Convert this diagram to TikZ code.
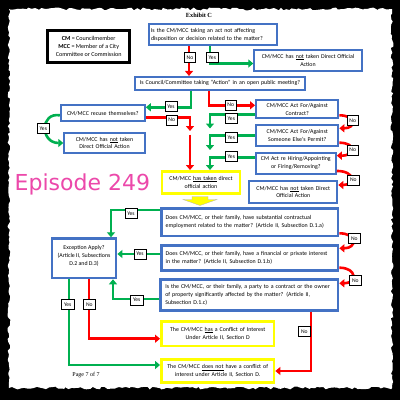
\documentclass[tikz,border=0pt]{standalone}
\usepackage{amsmath}
\usepackage{tikz}
\usetikzlibrary{arrows.meta, decorations.pathmorphing}
\usepackage{xcolor}
\usepackage{fontspec}
\setmainfont{Carlito}
\newfontfamily\exhibitface{Liberation Serif}
\newfontfamily\episodeface{DejaVu Sans}
\definecolor{cmblue}{RGB}{68,114,196}
\definecolor{cmgreen}{RGB}{0,176,80}
\definecolor{cmred}{RGB}{255,0,0}
\definecolor{cmyellow}{RGB}{255,255,0}
\definecolor{cmpink}{RGB}{236,72,170}

\begin{document}
\begin{tikzpicture}[x=1pt, y=-1pt,
    bluebox/.style={draw=cmblue, line width=2pt, fill=white, inner sep=2pt,
        font=\fontsize{5.9}{7.9}\selectfont},
    yellowbox/.style={draw=cmyellow, line width=2.6pt, fill=white, inner sep=2pt,
        font=\fontsize{5.9}{7.9}\selectfont, align=center},
    legendbox/.style={draw=black, line width=3.5pt, fill=white, align=center,
        font=\fontsize{6.1}{8}\selectfont, minimum width=82pt, minimum height=32pt},
    tag/.style={draw=black, line width=0.6pt, fill=white, inner xsep=2.5pt, inner ysep=0pt,
        minimum height=10pt, font=\fontsize{5.6}{6}\selectfont},
    yesarrow/.style={draw=cmgreen, line width=2.6pt, -{Triangle[length=5pt, width=8pt]}},
    noarrow/.style={draw=cmred, line width=2.6pt, -{Triangle[length=5pt, width=8pt]}}]
    \useasboundingbox (0,0) rectangle (400,400);
    \fill[black] (0,0) rectangle (400,400);
    \fill[white, decorate, decoration={random steps, segment length=3pt, amplitude=1.4pt}]
        (9,9) rectangle (392,388);

    \node[font=\exhibitface\bfseries\fontsize{6.3}{7}\selectfont] (exhibit) at (199,15.5) {Exhibit C};
    \node[legendbox] (legend) at (88.7,46.3) {\textbf{CM} = Councilmember\\ \textbf{MCC} = Member of a City\\ Committee or Commission};

    \node[bluebox, minimum width=128.6pt, minimum height=20.7pt, text width=124pt, align=left] (q1) at (213,34.7)
        {Is the CM/MCC taking an act not affecting\\ disposition or decision related to the matter?};
    \node[bluebox, minimum width=107.4pt, minimum height=20.4pt, text width=102pt, align=center] (r1) at (308,60.5)
        {CM/MCC has \underline{not} taken Direct Official\\ Action};
    \node[bluebox, minimum width=170pt, minimum height=12.7pt, text width=166pt, align=center] (q2) at (220,83.3)
        {Is Council/Committee taking “Action” in an open public meeting?};
    \node[bluebox, minimum width=83.7pt, minimum height=16pt, text width=80pt, align=center] (recuse) at (102.8,113.3)
        {CM/MCC recuse themselves?};
    \node[bluebox, minimum width=80.4pt, minimum height=20.6pt, text width=76pt, align=center] (nottaken1) at (104.5,143)
        {CM/MCC has \underline{not} taken\\ Direct Official Action};
    \node[bluebox, minimum width=82.3pt, minimum height=18pt, text width=78pt, align=center] (contract) at (297.2,109.3)
        {CM/MCC Act For/Against\\ Contract?};
    \node[bluebox, minimum width=82.3pt, minimum height=20.4pt, text width=78pt, align=center] (permit) at (297.2,135.5)
        {CM/MCC Act For/Against\\ Someone Else’s Permit?};
    \node[bluebox, minimum width=79.7pt, minimum height=21.3pt, text width=76pt, align=center] (hiring) at (295.8,163.3)
        {CM Act re Hiring/Appointing\\ or Firing/Removing?};
    \node[bluebox, minimum width=88pt, minimum height=22pt, text width=84pt, align=center] (nottaken2) at (293.3,192)
        {CM/MCC has \underline{not} taken Direct\\ Official Action};
    \node[yellowbox, minimum width=77.4pt, minimum height=22.4pt, text width=74pt] (taken) at (201,182.5)
        {CM/MCC \underline{has taken} direct\\ official action};

    \node[bluebox, line width=2.8pt, minimum width=176.5pt, minimum height=27.8pt, text width=168pt, align=left] (d1a) at (249.7,222)
        {Does CM/MCC, or their family, have substantial contractual\\ employment related to the matter? (Article II, Subsection D.1.a)};
    \node[bluebox, line width=2.8pt, minimum width=176.5pt, minimum height=24.6pt, text width=168pt, align=left] (d1b) at (249.7,258)
        {Does CM/MCC, or their family, have a financial or private interest\\ in the matter? (Article II, Subsection D.1.b)};
    \node[bluebox, line width=2.8pt, minimum width=177.2pt, minimum height=30.6pt, text width=168pt, align=left] (d1c) at (249.3,295)
        {Is the CM/MCC, or their family, a party to a contract or the owner\\ of property significantly affected by the matter? (Article II,\\ Subsection D.1.c)};
    \node[bluebox, line width=2.8pt, minimum width=63.8pt, minimum height=39.2pt, text width=60pt, align=center] (except) at (84,258.3) {};
    \node[font=\fontsize{5.9}{7.9}\selectfont, align=center, anchor=north] (excepttext) at (84,242.3)
        {Exception Apply?\\ (Article II, Subsections\\ D.2 and D.3)};
    \node[yellowbox, minimum width=112.7pt, minimum height=24.7pt, text width=108pt] (hasconf) at (217.7,333.7)
        {The CM/MCC \underline{has} a Conflict of Interest\\ Under Article II, Section D};
    \node[yellowbox, minimum width=112.7pt, minimum height=23.1pt, text width=108pt] (notconf) at (217.7,371)
        {The CM/MCC \underline{does not} have a conflict of\\ interest under Article II, Section D.};

    \node[font=\episodeface\fontsize{22}{24}\selectfont, text=cmpink, anchor=base west, inner sep=0pt] (episode) at (14.5,190.5) {Episode 249};
    \node[font=\exhibitface\fontsize{6}{7}\selectfont] (page) at (86,375.5) {Page 7 of 7};

    \draw[fill=cmyellow, draw=gray!60, line width=0.3pt] (192,196.5) -- (208,196.5) -- (208,199.5) -- (217,199.5)
        -- (200,205.5) -- (183,199.5) -- (192,199.5) -- cycle;

    \coordinate (redA) at (190,131);
    \coordinate (redB) at (190,134.5);
    \coordinate (greenA) at (210,128.5);
    \coordinate (greenB) at (210,150);

    \draw[noarrow] (q1.south -| 189,0) -- (q2.north -| 189,0);
    \draw[yesarrow] (q1.south -| 210,0) |- ([yshift=-3pt]r1.west);
    \draw[yesarrow] (q2.south -| 191,0) |- ([yshift=6pt]recuse.east);
    \draw[noarrow] (q2.south -| 209,0) |- ([yshift=4pt]contract.west);
    \draw[noarrow] ([yshift=-4pt]recuse.east) -| (redA);
    \draw[noarrow] (redB) -- (taken.north -| redB);
    \draw[yesarrow] ([yshift=-2pt]recuse.west) .. controls (40,112) and (40,143) .. (nottaken1.west);
    \draw[yesarrow] ([yshift=-5pt]contract.west) -| (greenA);
    \draw[yesarrow] (permit.west) -| (greenB);
    \draw[yesarrow] ([yshift=6pt]hiring.west) -| (taken.north -| 210,0);
    \draw[noarrow] ([yshift=4pt]contract.south east) .. controls +(17,0) and +(17,0) .. ([yshift=-4pt]permit.north east);
    \draw[noarrow] ([yshift=4pt]permit.south east) .. controls +(17,0) and +(19,0) .. ([yshift=-4pt]hiring.north east);
    \draw[noarrow] ([yshift=4pt]hiring.south east) .. controls +(19,0) and +(17,0) .. ([yshift=-5pt]nottaken2.north east);

    \draw[yesarrow] ([yshift=12pt]d1a.west) -| (except.north -| 111,0);
    \draw[yesarrow] ([yshift=4pt]d1b.west) -- ([yshift=4pt]d1b.west -| except.east);
    \draw[yesarrow] ([yshift=-4pt]d1c.west) -| (except.south -| 113,0);
    \draw[noarrow] ([yshift=4pt]d1a.south east) .. controls +(18,0) and +(18,0) .. ([yshift=-4pt]d1b.north east);
    \draw[noarrow] ([yshift=4pt]d1b.south east) .. controls +(18,0) and +(18,0) .. ([yshift=-5pt]d1c.north east);
    \draw[noarrow] (d1c.south -| 311,0) |- (notconf.east);
    \draw[noarrow] (except.south -| 89,0) |- ([yshift=-5pt]hasconf.west);
    \draw[yesarrow] (except.south -| 69,0) |- ([yshift=6pt]notconf.west);

    \node[tag] (t1) at (190,57.5) {No};
    \node[tag] (t2) at (212.3,57.5) {Yes};
    \node[tag] (t3) at (171,106.7) {Yes};
    \node[tag] (t4) at (230.7,105) {No};
    \node[tag] (t5) at (171.7,120) {No};
    \node[tag] (t6) at (43.3,128.7) {Yes};
    \node[tag] (t7) at (231.3,118.7) {Yes};
    \node[tag] (t8) at (231.3,137.3) {Yes};
    \node[tag] (t9) at (231.3,156.7) {Yes};
    \node[tag] (t10) at (352.7,120.7) {No};
    \node[tag] (t11) at (352.7,150) {No};
    \node[tag] (t12) at (353.3,180) {No};
    \node[tag] (t13) at (131,213.3) {Yes};
    \node[tag] (t14) at (140,254) {Yes};
    \node[tag] (t15) at (136.7,300) {Yes};
    \node[tag] (t16) at (354.3,238.7) {No};
    \node[tag] (t17) at (355.3,280.7) {No};
    \node[tag] (t18) at (304.3,331.7) {No};
    \node[tag] (t19) at (67.7,304.3) {Yes};
    \node[tag] (t20) at (89.3,304.3) {No};
\end{tikzpicture}
\end{document}
